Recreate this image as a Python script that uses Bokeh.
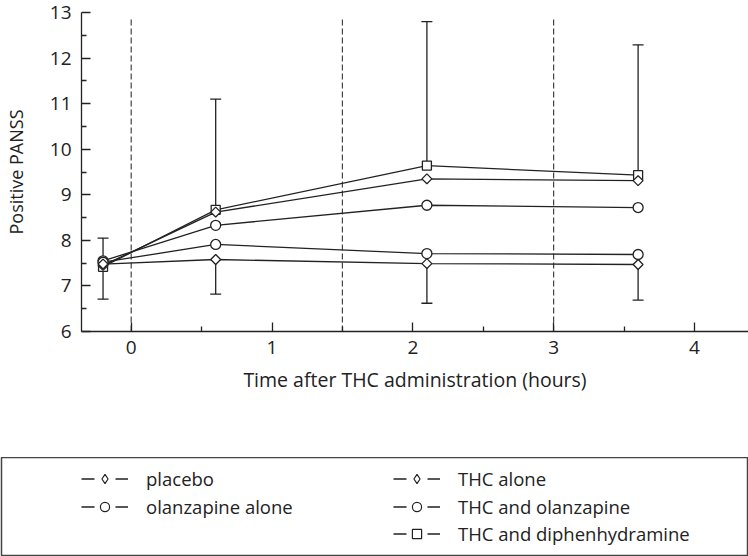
import math
from bokeh.plotting import figure
from bokeh.models import (ColumnDataSource, Whisker, TeeHead, Legend, LegendItem,
                          FixedTicker)
from bokeh.layouts import column
from bokeh.embed import file_html
from bokeh.resources import INLINE

# ---------------- data ----------------
times = [-0.2, 0.6, 2.1, 3.6]                    # hours after THC administration
placebo = [7.48, 7.58, 7.49, 7.47]
olanzapine_alone = [7.52, 7.91, 7.71, 7.69]
thc_alone = [7.45, 8.62, 9.35, 9.31]
thc_and_olanzapine = [7.55, 8.33, 8.77, 8.72]
thc_and_diphenhydramine = [7.42, 8.67, 9.64, 9.43]
thc_diph_upper_error = [0.63, 2.43, 3.16, 2.86]
placebo_lower_error = [0.77, 0.76, 0.87, 0.78]
phase_boundaries = [0.0, 1.5, 3.0]
x_ticks = [0, 1, 2, 3, 4]
x_minor_ticks = [0.5, 1.5, 2.5, 3.5]
y_ticks = [6, 7, 8, 9, 10, 11, 12, 13]
y_minor_ticks = [6.5, 7.5, 8.5, 9.5, 10.5, 11.5, 12.5]

FONT = "Open Sans"
INK = "#222222"

# ---------------- main plot ----------------
p = figure(width=748, height=457, x_range=(-0.353, 4.384), y_range=(6, 13),
           output_backend="svg", toolbar_location=None,
           min_border_left=81, min_border_right=0, min_border_top=12,
           min_border_bottom=126)
p.frame_align = False
p.outline_line_color = None
p.grid.visible = False
p.background_fill_color = "white"
p.border_fill_color = "white"

p.xaxis.ticker = FixedTicker(ticks=x_ticks, minor_ticks=x_minor_ticks)
p.yaxis.ticker = FixedTicker(ticks=y_ticks, minor_ticks=y_minor_ticks)
for ax in (p.xaxis[0], p.yaxis[0]):
    ax.axis_line_color = INK
    ax.axis_line_width = 1.3
    ax.major_tick_line_color = INK
    ax.minor_tick_line_color = INK
    ax.major_tick_line_width = 1.3
    ax.minor_tick_line_width = 1.3
    ax.major_tick_in = 9
    ax.major_tick_out = 0
    ax.minor_tick_in = 5
    ax.minor_tick_out = 0
    ax.major_label_text_font = FONT
    ax.major_label_text_font_size = "19px"
    ax.major_label_text_color = INK
    ax.axis_label_text_font = FONT
    ax.axis_label_text_font_style = "normal"
    ax.axis_label_text_color = INK
p.xaxis.axis_label = "Time after THC administration (hours)"
p.yaxis.axis_label = "Positive PANSS"
p.xaxis.axis_label_text_font_size = "19.5px"
p.yaxis.axis_label_text_font_size = "18px"
p.xaxis.major_label_standoff = 9
p.yaxis.major_label_standoff = 10
p.xaxis.axis_label_standoff = 9
p.yaxis.axis_label_standoff = 19

# dashed phase boundaries
p.segment(x0=phase_boundaries, y0=[6] * 3, x1=phase_boundaries, y1=[12.85] * 3,
          line_color="#444444", line_width=1.2, line_dash="6 3")

# error bars
up_src = ColumnDataSource(dict(x=times, base=thc_and_diphenhydramine,
                               top=[v + e for v, e in zip(thc_and_diphenhydramine, thc_diph_upper_error)]))
lo_src = ColumnDataSource(dict(x=times, base=placebo,
                               bottom=[v - e for v, e in zip(placebo, placebo_lower_error)]))
w_up = Whisker(source=up_src, base="x", upper="top", lower="base", dimension="height",
               line_color=INK, line_width=1.3, level="underlay",
               upper_head=TeeHead(size=11, line_color=INK, line_width=1.3),
               lower_head=None)
w_lo = Whisker(source=lo_src, base="x", upper="base", lower="bottom", dimension="height",
               line_color=INK, line_width=1.3, level="underlay",
               lower_head=TeeHead(size=11, line_color=INK, line_width=1.3),
               upper_head=None)
p.add_layout(w_up)
p.add_layout(w_lo)

# label, values, plot marker, size, angle, legend marker, legend x, legend y
series = [
    ("THC and diphenhydramine", thc_and_diphenhydramine, "square", 9, 0.0, "square", 392, 10.5),
    ("THC and olanzapine", thc_and_olanzapine, "circle", 10, 0.0, "circle", 392, 37.5),
    ("olanzapine alone", olanzapine_alone, "circle", 10, 0.0, "circle", 80, 37.5),
    ("THC alone", thc_alone, "square", 7, math.pi / 4, "diamond", 392, 65.5),
    ("placebo", placebo, "square", 7, math.pi / 4, "diamond", 80, 65.5),
]
for label, vals, *_ in series:
    p.line(times, vals, line_color=INK, line_width=1.3)
for label, vals, marker, size, ang, *_ in series:
    p.scatter(times, vals, marker=marker, size=size, angle=ang,
              fill_color="white", line_color=INK, line_width=1.3)

# ---------------- legend box (separate panel) ----------------
# its y range (0..1) lies below all PANSS values, so the series are only used as legend keys
lf = figure(width=748, height=99, x_range=(-0.353, 4.384), y_range=(0, 1),
            x_axis_type=None, y_axis_type=None,
            output_backend="svg", toolbar_location=None,
            min_border_left=1, min_border_right=0, min_border_top=0, min_border_bottom=0)
lf.frame_align = False
lf.grid.visible = False
lf.outline_line_color = "#444444"
lf.outline_line_width = 1.5
lf.background_fill_color = "white"
lf.border_fill_color = "white"

for label, vals, marker, size, ang, lmarker, lx, ly in series:
    lr = lf.line(times, vals, line_color=INK, line_width=1.3, line_dash="13 21")
    sr = lf.scatter(times, vals, marker=lmarker, fill_color="white",
                    line_color=INK, line_width=1.2)
    leg = Legend(items=[LegendItem(label=label, renderers=[lr, sr])],
                 location=(lx, ly), padding=0, margin=0, spacing=0,
                 border_line_color=None, background_fill_alpha=0,
                 glyph_width=47, glyph_height=23, label_height=23,
                 label_standoff=18, label_text_font=FONT,
                 label_text_font_size="18.5px", label_text_color=INK)
    lf.add_layout(leg)

layout = column(p, lf, spacing=0)
open("out.html", "w").write(file_html(layout, INLINE))
